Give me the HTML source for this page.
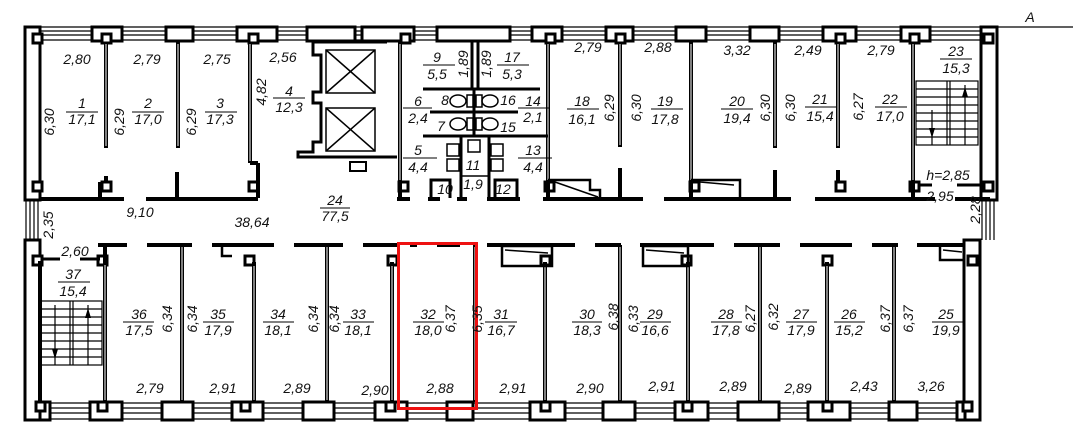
<!DOCTYPE html>
<html><head><meta charset="utf-8"><style>
html,body{margin:0;padding:0;background:#fff;width:1073px;height:444px;overflow:hidden}
svg{display:block}
text{font-family:"Liberation Sans",sans-serif;font-style:italic;font-size:14px;fill:#111}
</style></head><body>
<svg width="1073" height="444" viewBox="0 0 1073 444" xmlns="http://www.w3.org/2000/svg">
<g stroke="#000" fill="none">
<g stroke-width="1.2">
<line x1="25" y1="27" x2="997" y2="27"/><line x1="25" y1="31" x2="997" y2="31"/><line x1="25" y1="35" x2="997" y2="35"/><line x1="25" y1="40" x2="997" y2="40"/>
<line x1="25" y1="403" x2="980" y2="403"/><line x1="25" y1="408" x2="980" y2="408"/><line x1="25" y1="413" x2="980" y2="413"/><line x1="25" y1="419" x2="980" y2="419"/>
<line x1="26" y1="200" x2="26" y2="240"/><line x1="30" y1="200" x2="30" y2="240"/><line x1="34" y1="200" x2="34" y2="240"/><line x1="38" y1="200" x2="38" y2="240"/>
<line x1="982" y1="200" x2="982" y2="240"/><line x1="986" y1="200" x2="986" y2="240"/><line x1="990" y1="200" x2="990" y2="240"/><line x1="994" y1="200" x2="994" y2="240"/>
<line x1="990" y1="27" x2="1073" y2="27"/>
</g>
<g stroke-width="3" fill="#fff">
<rect x="25" y="27" width="15" height="173"/>
<rect x="25" y="240" width="15" height="180"/>
<rect x="981" y="27" width="16" height="173"/>
<rect x="964" y="240" width="16" height="180"/>
<rect x="92" y="27" width="30" height="14"/><rect x="166" y="27" width="27" height="14"/><rect x="237" y="27" width="40" height="14"/>
<rect x="307" y="27" width="48" height="14"/>
<rect x="437" y="27" width="73" height="14"/><rect x="532" y="27" width="30" height="14"/><rect x="606" y="27" width="27" height="14"/>
<rect x="676" y="27" width="30" height="14"/><rect x="750" y="27" width="29" height="14"/><rect x="823" y="27" width="33" height="14"/>
<rect x="901" y="27" width="29" height="14"/>
<rect x="362" y="27" width="52" height="14"/>
<rect x="40" y="402" width="10" height="18"/><rect x="90" y="402" width="32" height="18"/><rect x="162" y="402" width="31" height="18"/>
<rect x="232" y="402" width="31" height="18"/><rect x="303" y="402" width="31" height="18"/><rect x="375" y="402" width="32" height="18"/>
<rect x="447" y="402" width="26" height="18"/><rect x="530" y="402" width="35" height="18"/><rect x="603" y="402" width="32" height="18"/>
<rect x="675" y="402" width="33" height="18"/><rect x="738" y="402" width="41" height="18"/><rect x="808" y="402" width="42" height="18"/>
<rect x="889" y="402" width="28" height="18"/><rect x="957" y="402" width="8" height="18"/>
</g>
<g stroke-width="3" fill="#fff">
<rect x="33" y="34" width="9" height="9"/><rect x="102" y="34" width="9" height="9"/><rect x="249" y="34" width="9" height="9"/>
<rect x="401" y="34" width="9" height="9"/><rect x="546" y="34" width="9" height="9"/><rect x="616" y="34" width="9" height="9"/>
<rect x="836" y="34" width="9" height="9"/><rect x="910" y="34" width="9" height="9"/><rect x="984" y="34" width="9" height="9"/>
<rect x="33" y="182" width="9" height="9"/><rect x="102" y="182" width="9" height="9"/><rect x="249" y="182" width="9" height="9"/>
<rect x="399" y="182" width="9" height="9"/><rect x="545" y="182" width="9" height="9"/><rect x="690" y="182" width="9" height="9"/>
<rect x="836" y="182" width="9" height="9"/><rect x="910" y="182" width="9" height="9"/><rect x="984" y="182" width="9" height="9"/>
<rect x="33" y="256" width="9" height="9"/><rect x="98" y="256" width="9" height="9"/><rect x="245" y="256" width="9" height="9"/>
<rect x="388" y="256" width="9" height="9"/><rect x="541" y="256" width="9" height="9"/><rect x="682" y="256" width="9" height="9"/>
<rect x="823" y="256" width="9" height="9"/><rect x="968" y="256" width="9" height="9"/>
<rect x="36" y="402" width="9" height="9"/><rect x="98" y="402" width="9" height="9"/><rect x="241" y="402" width="9" height="9"/>
<rect x="386" y="402" width="9" height="9"/><rect x="541" y="402" width="9" height="9"/><rect x="683" y="402" width="9" height="9"/>
<rect x="823" y="402" width="9" height="9"/><rect x="963" y="402" width="9" height="9"/>
</g>
<g stroke-width="4">
<line x1="106" y1="42" x2="106" y2="148"/><line x1="178" y1="42" x2="178" y2="148"/>
<line x1="250" y1="42" x2="250" y2="163"/><line x1="250" y1="163" x2="258" y2="163"/><line x1="258" y1="163" x2="258" y2="198"/>
<line x1="400" y1="42" x2="400" y2="198"/>
<line x1="548" y1="42" x2="548" y2="198"/>
<line x1="620" y1="42" x2="620" y2="147"/><line x1="620" y1="168" x2="620" y2="198"/>
<line x1="691" y1="42" x2="691" y2="198"/>
<line x1="775" y1="42" x2="775" y2="148"/><line x1="775" y1="170" x2="775" y2="198"/>
<line x1="838" y1="42" x2="838" y2="148"/><line x1="838" y1="170" x2="838" y2="182"/>
<line x1="913" y1="42" x2="913" y2="198"/>
<line x1="40" y1="199" x2="124" y2="199"/><line x1="146" y1="199" x2="258" y2="199"/>
<line x1="397" y1="199" x2="410" y2="199"/><line x1="428" y1="199" x2="440" y2="199"/><line x1="457" y1="199" x2="467" y2="199"/><line x1="487" y1="199" x2="520" y2="199"/>
<line x1="543" y1="199" x2="643" y2="199"/><line x1="664" y1="199" x2="791" y2="199"/><line x1="815" y1="199" x2="935" y2="199"/><line x1="955" y1="199" x2="990" y2="199"/>
<line x1="100" y1="182" x2="100" y2="199"/><line x1="106" y1="176" x2="106" y2="182"/><line x1="177" y1="172" x2="177" y2="199"/>
<line x1="98" y1="245" x2="127" y2="245"/><line x1="147" y1="245" x2="192" y2="245"/><line x1="212" y1="245" x2="274" y2="245"/>
<line x1="294" y1="245" x2="343" y2="245"/><line x1="363" y1="245" x2="397" y2="245"/><line x1="410" y1="245" x2="417" y2="245"/><line x1="437" y1="245" x2="460" y2="245"/>
<line x1="487" y1="245" x2="575" y2="245"/><line x1="595" y1="245" x2="621" y2="245"/><line x1="640" y1="245" x2="714" y2="245"/>
<line x1="734" y1="245" x2="780" y2="245"/><line x1="800" y1="245" x2="852" y2="245"/><line x1="872" y1="245" x2="898" y2="245"/><line x1="917" y1="245" x2="965" y2="245"/>
<line x1="105" y1="245" x2="105" y2="402"/><line x1="182" y1="245" x2="182" y2="402"/><line x1="254" y1="262" x2="254" y2="402"/>
<line x1="327" y1="245" x2="327" y2="402"/><line x1="392" y1="262" x2="392" y2="402"/><line x1="475" y1="245" x2="475" y2="402"/>
<line x1="545" y1="262" x2="545" y2="402"/><line x1="620" y1="245" x2="620" y2="402"/><line x1="688" y1="262" x2="688" y2="402"/>
<line x1="760" y1="245" x2="760" y2="402"/><line x1="827" y1="262" x2="827" y2="402"/><line x1="894" y1="245" x2="894" y2="402"/>
<line x1="40" y1="261" x2="40" y2="402"/>
</g>
<!-- double-line core for partitions -->
<g stroke="#fff" stroke-width="1">
<line x1="106" y1="44" x2="106" y2="146"/><line x1="178" y1="44" x2="178" y2="146"/><line x1="250" y1="44" x2="250" y2="161"/>
<line x1="548" y1="44" x2="548" y2="180"/><line x1="620" y1="44" x2="620" y2="145"/><line x1="691" y1="44" x2="691" y2="180"/>
<line x1="775" y1="44" x2="775" y2="146"/><line x1="838" y1="44" x2="838" y2="146"/><line x1="913" y1="44" x2="913" y2="180"/><line x1="400" y1="44" x2="400" y2="180"/>
<line x1="105" y1="265" x2="105" y2="400"/><line x1="182" y1="247" x2="182" y2="400"/><line x1="254" y1="266" x2="254" y2="400"/>
<line x1="327" y1="247" x2="327" y2="400"/><line x1="392" y1="266" x2="392" y2="400"/><line x1="475" y1="247" x2="475" y2="400"/>
<line x1="545" y1="266" x2="545" y2="400"/><line x1="620" y1="247" x2="620" y2="400"/><line x1="688" y1="266" x2="688" y2="400"/>
<line x1="760" y1="247" x2="760" y2="400"/><line x1="827" y1="266" x2="827" y2="400"/><line x1="894" y1="247" x2="894" y2="400"/>
</g>
<g stroke-width="3">
<polyline points="313,42 313,55 321,55 321,92 313,92 313,103 321,103 321,142 313,142 313,152 298,152 298,157 397,157"/>
<line x1="313" y1="42" x2="387" y2="42"/>
</g>
<g stroke-width="1.5">
<rect x="326" y="50" width="49" height="43"/><line x1="326" y1="50" x2="375" y2="93"/><line x1="375" y1="50" x2="326" y2="93"/>
<rect x="326" y="108" width="49" height="43"/><line x1="326" y1="108" x2="375" y2="151"/><line x1="375" y1="108" x2="326" y2="151"/>
<rect x="350" y="162" width="16" height="9" stroke-width="2"/>
</g>
<g stroke-width="3">
<line x1="472" y1="42" x2="472" y2="88"/><line x1="478" y1="42" x2="478" y2="88"/>
<line x1="423" y1="89" x2="540" y2="89"/>
<line x1="430" y1="112" x2="518" y2="112"/>
<line x1="423" y1="136" x2="548" y2="136"/>
<line x1="474" y1="89" x2="474" y2="136"/>
<line x1="461" y1="136" x2="461" y2="198"/><line x1="489" y1="136" x2="489" y2="198"/>
<polyline points="431,198 431,180 450,180 450,198"/><polyline points="495,198 495,180 517,180 517,198"/>
</g>
<g stroke-width="1.5">
<ellipse cx="458" cy="101" rx="8" ry="6"/><ellipse cx="490" cy="101" rx="8" ry="6"/>
<ellipse cx="458" cy="124" rx="8" ry="6"/><ellipse cx="490" cy="124" rx="8" ry="6"/>
<rect x="467" y="95" width="6" height="12"/><rect x="476" y="95" width="6" height="12"/><rect x="467" y="118" width="6" height="12"/><rect x="476" y="118" width="6" height="12"/>
<rect x="447" y="144" width="12" height="12"/><rect x="447" y="159" width="12" height="12"/>
<rect x="491" y="144" width="12" height="12"/><rect x="491" y="159" width="12" height="12"/>
<rect x="468" y="140" width="12" height="12"/>
<line x1="460" y1="176" x2="490" y2="176"/>
</g>
<g stroke-width="2.5">
<polyline points="548,180 590,180 590,190 600,190 600,198"/><line x1="555" y1="182" x2="598" y2="197" stroke-width="1.5"/>
<polyline points="691,180 740,180 740,198"/><line x1="700" y1="182" x2="734" y2="185" stroke-width="1.5"/>
<rect x="502" y="246" width="50" height="20"/><line x1="505" y1="250" x2="548" y2="253" stroke-width="1.5"/>
<rect x="643" y="246" width="45" height="20"/><line x1="646" y1="250" x2="684" y2="253" stroke-width="1.5"/>
<polyline points="940,245 940,260 964,260"/><line x1="943" y1="250" x2="962" y2="252" stroke-width="1.5"/>
<polyline points="222,245 222,256 232,256"/>
</g>
<g stroke-width="1.2">
<rect x="916" y="81" width="62" height="64"/><line x1="947" y1="81" x2="947" y2="145"/><line x1="950" y1="81" x2="950" y2="145"/>
<line x1="916" y1="89" x2="978" y2="89"/><line x1="916" y1="97" x2="978" y2="97"/><line x1="916" y1="105" x2="978" y2="105"/><line x1="916" y1="113" x2="978" y2="113"/><line x1="916" y1="121" x2="978" y2="121"/><line x1="916" y1="129" x2="978" y2="129"/><line x1="916" y1="137" x2="978" y2="137"/>
<line x1="932" y1="110" x2="932" y2="145"/><line x1="965" y1="85" x2="965" y2="145"/>
<rect x="40" y="301" width="62" height="64"/><line x1="70" y1="301" x2="70" y2="365"/><line x1="73" y1="301" x2="73" y2="365"/>
<line x1="40" y1="309" x2="102" y2="309"/><line x1="40" y1="317" x2="102" y2="317"/><line x1="40" y1="325" x2="102" y2="325"/><line x1="40" y1="333" x2="102" y2="333"/><line x1="40" y1="341" x2="102" y2="341"/><line x1="40" y1="349" x2="102" y2="349"/><line x1="40" y1="357" x2="102" y2="357"/>
<line x1="55" y1="305" x2="55" y2="365"/><line x1="88" y1="305" x2="88" y2="365"/>
</g>
<g fill="#000" stroke="none">
<polygon points="929,128 935,128 932,138"/><polygon points="962,97 968,97 965,87"/>
<polygon points="52,349 58,349 55,359"/><polygon points="85,318 91,318 88,308"/>
</g>
<g stroke-width="3">
<line x1="42" y1="259" x2="60" y2="259"/><line x1="80" y1="259" x2="100" y2="259"/>
<line x1="919" y1="185" x2="932" y2="185"/><line x1="957" y1="185" x2="980" y2="185"/>
</g>
<g stroke-width="1">
<line x1="66" y1="112" x2="98" y2="112"/><line x1="132" y1="112" x2="164" y2="112"/><line x1="205" y1="112" x2="237" y2="112"/>
<line x1="273" y1="98" x2="305" y2="98"/><line x1="320" y1="208" x2="350" y2="208"/>
<line x1="423" y1="65" x2="455" y2="65"/><line x1="497" y1="65" x2="529" y2="65"/>
<line x1="403" y1="108" x2="432" y2="108"/><line x1="518" y1="108" x2="550" y2="108"/>
<line x1="403" y1="158" x2="437" y2="158"/><line x1="518" y1="158" x2="552" y2="158"/>
<line x1="567" y1="109" x2="599" y2="109"/><line x1="651" y1="109" x2="683" y2="109"/><line x1="721" y1="109" x2="753" y2="109"/>
<line x1="805" y1="107" x2="837" y2="107"/><line x1="875" y1="107" x2="907" y2="107"/><line x1="940" y1="59" x2="972" y2="59"/>
<line x1="58" y1="282" x2="90" y2="282"/>
<line x1="123" y1="322" x2="154" y2="322"/><line x1="203" y1="322" x2="234" y2="322"/><line x1="263" y1="322" x2="294" y2="322"/>
<line x1="343" y1="322" x2="374" y2="322"/><line x1="413" y1="322" x2="444" y2="322"/><line x1="485" y1="322" x2="517" y2="322"/>
<line x1="572" y1="322" x2="602" y2="322"/><line x1="640" y1="322" x2="671" y2="322"/><line x1="711" y1="322" x2="742" y2="322"/>
<line x1="786" y1="322" x2="817" y2="322"/><line x1="834" y1="322" x2="865" y2="322"/><line x1="932" y1="322" x2="963" y2="322"/>
</g>
</g>
<rect x="398.5" y="243.5" width="78" height="165" fill="none" stroke="#ee1111" stroke-width="3"/>
<g text-anchor="middle">
<text x="1030" y="22">A</text>
<text x="77" y="64">2,80</text><text x="147" y="64">2,79</text><text x="217" y="64">2,75</text><text x="283" y="62">2,56</text>
<text x="82" y="108">1</text><text x="82" y="124">17,1</text>
<text x="148" y="108">2</text><text x="148" y="124">17,0</text>
<text x="220" y="108">3</text><text x="220" y="124">17,3</text>
<text x="289" y="96">4</text><text x="289" y="112">12,3</text>
<text x="140" y="217">9,10</text><text x="252" y="227">38,64</text>
<text x="335" y="205">24</text><text x="335" y="221">77,5</text>
<text x="437" y="62">9</text><text x="437" y="79">5,5</text>
<text x="512" y="62">17</text><text x="512" y="79">5,3</text>
<text x="418" y="106">6</text><text x="418" y="123">2,4</text>
<text x="445" y="105">8</text><text x="508" y="105">16</text><text x="441" y="131">7</text><text x="508" y="132">15</text>
<text x="533" y="106">14</text><text x="533" y="122">2,1</text>
<text x="418" y="155">5</text><text x="418" y="172">4,4</text>
<text x="533" y="155">13</text><text x="533" y="172">4,4</text>
<text x="473" y="170">11</text><text x="473" y="189">1,9</text>
<text x="445" y="194">10</text><text x="503" y="194">12</text>
<text x="588" y="52">2,79</text><text x="658" y="52">2,88</text><text x="737" y="55">3,32</text><text x="808" y="55">2,49</text><text x="881" y="55">2,79</text>
<text x="582" y="106">18</text><text x="582" y="124">16,1</text>
<text x="665" y="106">19</text><text x="665" y="124">17,8</text>
<text x="737" y="106">20</text><text x="737" y="123">19,4</text>
<text x="820" y="104">21</text><text x="820" y="121">15,4</text>
<text x="890" y="104">22</text><text x="890" y="121">17,0</text>
<text x="956" y="56">23</text><text x="956" y="73">15,3</text>
<text x="948" y="180">h=2,85</text><text x="940" y="201">2,95</text>
<text x="75" y="256">2,60</text>
<text x="73" y="279">37</text><text x="73" y="296">15,4</text>
<text x="139" y="319">36</text><text x="139" y="335">17,5</text>
<text x="218" y="319">35</text><text x="218" y="335">17,9</text>
<text x="278" y="319">34</text><text x="278" y="335">18,1</text>
<text x="358" y="319">33</text><text x="358" y="335">18,1</text>
<text x="428" y="319">32</text><text x="428" y="335">18,0</text>
<text x="501" y="319">31</text><text x="501" y="335">16,7</text>
<text x="587" y="319">30</text><text x="587" y="335">18,3</text>
<text x="655" y="319">29</text><text x="655" y="335">16,6</text>
<text x="726" y="319">28</text><text x="726" y="335">17,8</text>
<text x="801" y="319">27</text><text x="801" y="335">17,9</text>
<text x="849" y="319">26</text><text x="849" y="335">15,2</text>
<text x="946" y="319">25</text><text x="946" y="335">19,9</text>
<text x="150" y="393">2,79</text><text x="223" y="393">2,91</text><text x="297" y="393">2,89</text><text x="375" y="395">2,90</text>
<text x="440" y="393">2,88</text><text x="513" y="393">2,91</text><text x="590" y="393">2,90</text><text x="662" y="391">2,91</text>
<text x="733" y="391">2,89</text><text x="798" y="393">2,89</text><text x="864" y="391">2,43</text><text x="931" y="391">3,26</text>
</g>
<g text-anchor="middle">
<text transform="translate(54,122) rotate(-90)">6,30</text>
<text transform="translate(124,122) rotate(-90)">6,29</text>
<text transform="translate(196,122) rotate(-90)">6,29</text>
<text transform="translate(266,92) rotate(-90)">4,82</text>
<text transform="translate(468,64) rotate(-90)">1,89</text>
<text transform="translate(491,64) rotate(-90)">1,89</text>
<text transform="translate(614,108) rotate(-90)">6,29</text>
<text transform="translate(641,108) rotate(-90)">6,30</text>
<text transform="translate(770,108) rotate(-90)">6,30</text>
<text transform="translate(795,108) rotate(-90)">6,30</text>
<text transform="translate(863,107) rotate(-90)">6,27</text>
<text transform="translate(980,210) rotate(-90)">2,28</text>
<text transform="translate(53,225) rotate(-90)">2,35</text>
<text transform="translate(172,319) rotate(-90)">6,34</text>
<text transform="translate(197,319) rotate(-90)">6,34</text>
<text transform="translate(318,319) rotate(-90)">6,34</text>
<text transform="translate(339,319) rotate(-90)">6,34</text>
<text transform="translate(455,319) rotate(-90)">6,37</text>
<text transform="translate(482,319) rotate(-90)">6,35</text>
<text transform="translate(618,317) rotate(-90)">6,38</text>
<text transform="translate(638,319) rotate(-90)">6,33</text>
<text transform="translate(755,319) rotate(-90)">6,27</text>
<text transform="translate(778,317) rotate(-90)">6,32</text>
<text transform="translate(890,319) rotate(-90)">6,37</text>
<text transform="translate(913,319) rotate(-90)">6,37</text>
</g>
</svg>
</body></html>
